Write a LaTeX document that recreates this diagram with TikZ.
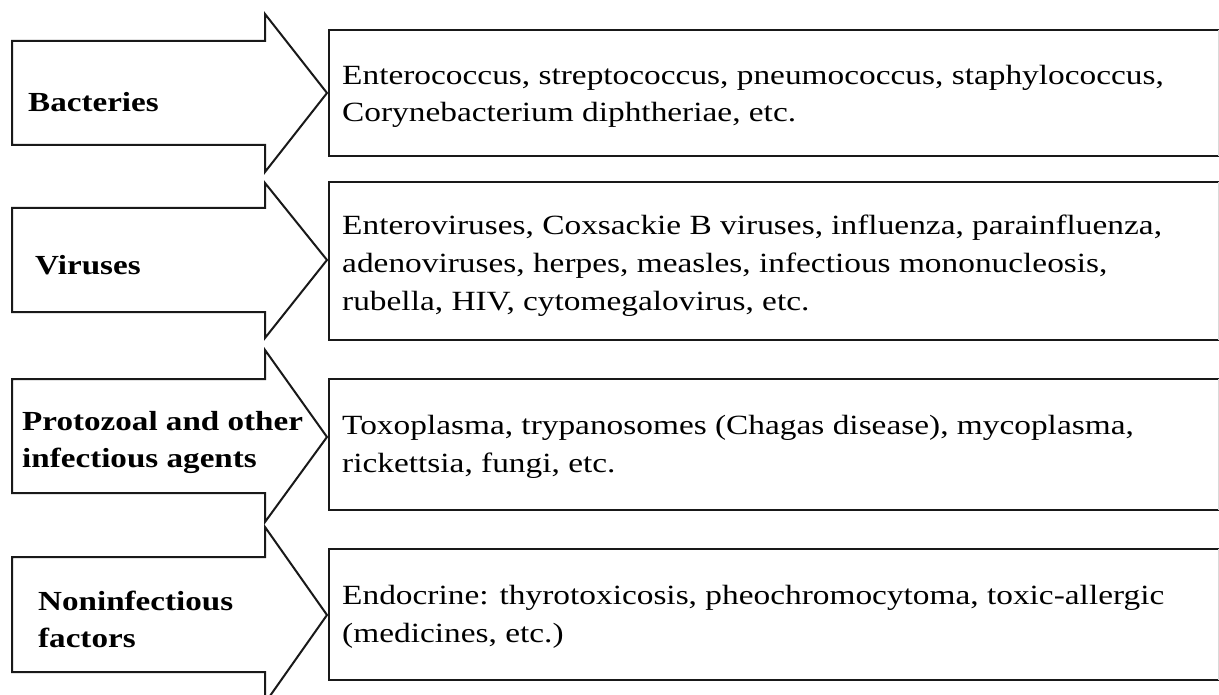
\documentclass[tikz,border=0pt]{standalone}
\usepackage{fontspec}
\setmainfont{Liberation Serif}[FakeStretch=1.2]
\begin{document}
\begin{tikzpicture}[x=1bp,y=-1bp,line join=miter]
\tikzset{
  arrowshape/.style={draw=black!90,line width=2bp,fill=white},
  boxline/.style={draw=black!90,line width=2bp},
  boxedge/.style={draw=black!15,line width=1bp},
  lab/.style={font=\fontsize{27.6bp}{37bp}\selectfont\bfseries,anchor=base west,align=left,inner sep=0pt},
  txt/.style={font=\fontsize{27.8bp}{37.7bp}\selectfont,anchor=base west,align=left,inner sep=0pt}
}
\useasboundingbox (0,0) rectangle (1219,695);
\clip (0,0) rectangle (1219,695);
\fill[white] (0,0) rectangle (1219,695);
% arrows: body top, body bottom, head top, head bottom, tip y
\newcommand\causearrow[5]{%
  \draw[arrowshape] (12,#1) -- (265,#1) -- (265,#3) -- (327,#5) -- (265,#4) -- (265,#2) -- (12,#2) -- cycle;}
\newcommand\causebox[2]{%
  \draw[boxline] (1222,#1) -- (329,#1) -- (329,#2) -- (1222,#2);
  \draw[boxedge] (1218,#1) -- (1218,#2);}
\causearrow{41}{145}{14}{172}{93}
\causearrow{208}{312}{183}{338}{260}
\causearrow{379}{493}{350}{522}{437}
\causearrow{557}{672}{527}{703}{615}
\causebox{30}{156}
\causebox{182}{340}
\causebox{379}{510}
\causebox{549}{680}
% anchor = baseline of the last line
\node[lab] (l1) at (28,112) {Bacteries};
\node[lab] (l2) at (35,274) {Viruses};
\node[lab] (l3) at (22,467) {Protozoal and other\\infectious agents};
\node[lab] (l4) at (38,647) {Noninfectious\\factors};
\node[txt] (t1) at (342,122) {Enterococcus, streptococcus, pneumococcus, staphylococcus,\\Corynebacterium diphtheriae, etc.};
\node[txt] (t2) at (342,310) {Enteroviruses, Coxsackie B viruses, influenza, parainfluenza,\\adenoviruses, herpes, measles, infectious mononucleosis,\\rubella, HIV, cytomegalovirus, etc.};
\node[txt] (t3) at (342,472) {Toxoplasma, trypanosomes (Chagas disease), mycoplasma,\\rickettsia, fungi, etc.};
\node[txt] (t4) at (342,642) {Endocrine: thyrotoxicosis, pheochromocytoma, toxic-allergic\\(medicines, etc.)};
\end{tikzpicture}
\end{document}
